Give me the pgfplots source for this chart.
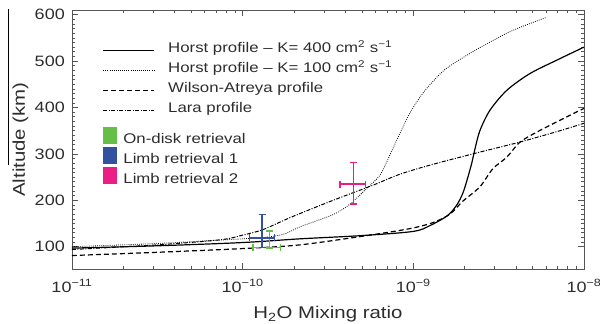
\documentclass[border=0pt]{standalone}
\usepackage{fontspec}
\setmainfont{Liberation Sans}[FakeStretch=1.2]
\usepackage{pgfplots}
\pgfplotsset{compat=1.18}
\usetikzlibrary{calc}
\definecolor{cgreen}{RGB}{100,190,72}
\definecolor{cblue}{RGB}{52,80,160}
\definecolor{cpink}{RGB}{234,30,132}
\definecolor{axcol}{RGB}{85,85,85}
\definecolor{txt}{RGB}{45,45,45}
\begin{document}
\begin{tikzpicture}
\begin{axis}[name=main, scale only axis, width=512pt, height=259pt,
  xmode=log, xmin=1e-11, xmax=1e-8, ymin=52, ymax=610,
  xtick={1e-11,1e-10,1e-9,1e-8},
  xticklabels={10\textsuperscript{−11},10\textsuperscript{−10},10\textsuperscript{−9},10\textsuperscript{−8}},
  minor xtick={2e-11,3e-11,4e-11,5e-11,6e-11,7e-11,8e-11,9e-11,2e-10,3e-10,4e-10,5e-10,6e-10,7e-10,8e-10,9e-10,2e-9,3e-9,4e-9,5e-9,6e-9,7e-9,8e-9,9e-9},
  ytick={100,200,300,400,500,600}, yticklabels={100,200,300,400,500,600},
  minor y tick num=9,
  major tick length=6pt, minor tick length=3pt,
  every tick/.style={axcol, line width=0.6pt},
  axis line style={axcol, line width=0.9pt},
  tick label style={text=txt, font=\fontsize{15}{18}\selectfont},
  xticklabel style={anchor=base, inner sep=0pt, yshift=-23pt},
  yticklabel style={anchor=east, inner sep=0pt, xshift=-7pt},
  xlabel={H\textsubscript{2}O Mixing ratio},
  ylabel={Altitude (km)},
  label style={text=txt, font=\fontsize{17}{20}\selectfont},
  xlabel style={at={(axis description cs:0.5,-0.193)}, anchor=base},
  ylabel style={at={(axis description cs:-0.0918,0.5)}, anchor=base, rotate=0},
  legend cell align=left,
  legend style={draw=none, fill=none, inner sep=0pt, outer sep=0pt,
    at={(axis description cs:0.06,0.8737)}, anchor=north west,
    font=\fontsize{14}{17}\selectfont, text=txt,
    column sep=13.3pt, row sep=7pt,
    nodes={inner sep=0pt, text height=10pt, text depth=3pt, anchor=base west}},
  legend image code/.code={\draw[#1] (0pt,2pt) -- (51pt,2pt);},
]
\addplot[black, line width=1.2pt, smooth] coordinates {
(1e-11,97) (3.162e-11,102) (1e-10,109) (2.168e-10,117) (5.0e-10,124) (1e-9,133)
(1.259e-9,146) (1.585e-9,167) (1.799e-9,190) (1.954e-9,216) (2.089e-9,250)
(2.203e-9,281) (2.296e-9,310) (2.455e-9,350) (2.812e-9,394) (3.532e-9,437)
(4.819e-9,473) (6.934e-9,502) (1e-8,530)};
\addlegendentry{Horst profile – K= 400 cm\textsuperscript{2} s\textsuperscript{−1}}
\addplot[black, line width=0.8pt, dash pattern=on 0.8pt off 1.3pt, smooth] coordinates {
(1e-11,100) (3.162e-11,107) (1e-10,117) (1.413e-10,121) (1.778e-10,128) (2.168e-10,143)
(3.381e-10,169) (4.256e-10,192) (5.346e-10,226) (6.368e-10,254) (7.295e-10,298)
(8.345e-10,344) (9.552e-10,388) (1.093e-9,422) (1.251e-9,449) (1.574e-9,485)
(2.455e-9,529) (3.828e-9,566) (6.026e-9,594)};
\addlegendentry{Horst profile – K= 100 cm\textsuperscript{2} s\textsuperscript{−1}}
\addplot[black, line width=1.2pt, dash pattern=on 5pt off 3pt, smooth] coordinates {
(1e-11,81) (3.162e-11,88) (1e-10,96) (2.168e-10,104) (5.346e-10,124) (9.550e-10,139)
(1.303e-9,152) (1.637e-9,170) (1.950e-9,198) (2.455e-9,229) (2.924e-9,268)
(3.532e-9,293) (4.207e-9,325) (5.297e-9,347) (7.943e-9,380) (1e-8,398)};
\addlegendentry{Wilson-Atreya profile}
\addplot[black, line width=1.0pt, dash pattern=on 4pt off 1.5pt on 1pt off 1.5pt, smooth] coordinates {
(1e-11,94) (3.162e-11,104) (7.413e-11,115) (1e-10,125) (1.318e-10,137) (1.905e-10,163)
(3.388e-10,200) (5.754e-10,232) (8.318e-10,256) (1.259e-9,276) (2.344e-9,302)
(4.169e-9,325) (7.244e-9,350) (1e-8,366)};
\addlegendentry{Lara profile}
% error bars
\addplot[forget plot, cgreen, line width=1.2pt, mark=|, mark size=3.5pt, mark options={solid, line width=1.2pt}] coordinates {(1.15e-10,99) (1.67e-10,99)};
\addplot[forget plot, cgreen, line width=1.2pt, mark=-, mark size=3.5pt, mark options={solid, line width=1.2pt}] coordinates {(1.43e-10,97) (1.43e-10,134)};
\addplot[forget plot, cblue, line width=1.2pt, mark=|, mark size=3.5pt, mark options={solid, line width=1.2pt}] coordinates {(1.094e-10,119) (1.545e-10,119)};
\addplot[forget plot, cblue, line width=1.2pt, mark=-, mark size=3.5pt, mark options={solid, line width=1.2pt}] coordinates {(1.30e-10,98) (1.30e-10,169)};
\addplot[forget plot, cpink, line width=1.2pt, mark=|, mark size=3.5pt, mark options={solid, line width=1.2pt}] coordinates {(3.72e-10,235) (5.26e-10,235)};
\addplot[forget plot, cpink, line width=1.2pt, mark=-, mark size=3.5pt, mark options={solid, line width=1.2pt}] coordinates {(4.45e-10,192) (4.45e-10,282)};
\end{axis}
\begin{axis}[scale only axis, width=512pt, height=259pt, hide axis,
  xmin=0, xmax=1, ymin=0, ymax=1,
  legend cell align=left,
  legend style={draw=none, fill=none, inner sep=0pt, outer sep=0pt,
    at={(axis description cs:0.06,0.5471)}, anchor=north west,
    font=\fontsize{14}{17}\selectfont, text=txt,
    column sep=7.3pt, row sep=0pt,
    nodes={inner sep=0pt, text height=16pt, text depth=3.7pt, anchor=base west}},
  legend image code/.code={\fill[#1] (0pt,0pt) rectangle (13pt,16pt);},
]
\addlegendimage{cgreen, fill=cgreen}
\addlegendentry{On-disk retrieval}
\addlegendimage{cblue, fill=cblue}
\addlegendentry{Limb retrieval 1}
\addlegendimage{cpink, fill=cpink}
\addlegendentry{Limb retrieval 2}
\end{axis}
\draw[black, line width=0.6pt] ($(main.south west)+(-64pt,104pt)$) -- ($(main.south west)+(-64pt,260pt)$);
\pgfresetboundingbox
\path[use as bounding box] ($(main.south west)+(-72pt,-55pt)$) rectangle ($(main.north east)+(16pt,10pt)$);
\end{tikzpicture}
\end{document}
